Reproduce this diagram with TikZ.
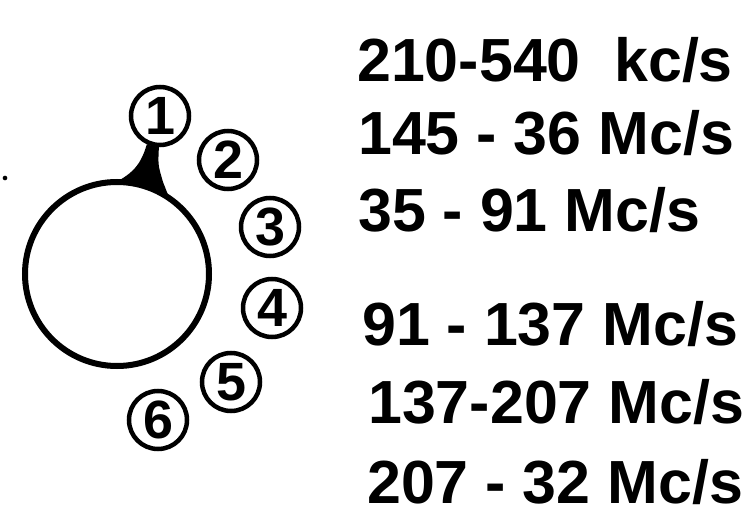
\documentclass[tikz,border=0pt]{standalone}
\usepackage{fontspec}
\setmainfont{Liberation Sans}

\begin{document}
\begin{tikzpicture}[x=0.3mm, y=-0.3mm,
  dial/.style={draw, circle, line width=1.8mm, minimum size=55.2mm, inner sep=0pt, fill=white},
  band/.style={draw, circle, line width=1.35mm, minimum size=17.4mm, inner sep=0pt, font=\fontsize{46pt}{46pt}\selectfont\bfseries},
  freqlabel/.style={anchor=base west, inner sep=0pt, font=\fontsize{52pt}{60pt}\selectfont\bfseries}
]
  \useasboundingbox (0,0) rectangle (751,527);

  \node[band] (b1) at (160,116) {1};
  \node[band] (b2) at (228,160) {2};
  \node[band] (b3) at (270,227) {3};
  \node[band] (b4) at (272,308) {4};
  \node[band] (b5) at (231,382) {5};
  \node[band] (b6) at (158,420) {6};

  \fill (b1.-115) .. controls (140,168) and (130,176) .. (104,188) -- (117,230) -- (172,205) -- (163,182) .. controls (158,165) .. (b1.-92) -- cycle;
  \node[dial] (dial) at (117,274) {};

  \fill (5,178) circle[radius=0.7mm];

  \node[freqlabel] (r1) at (357,82)  {210-540\hspace{0.55em}kc/s};
  \node[freqlabel] (r2) at (358,155) {145 - 36 Mc/s};
  \node[freqlabel] (r3) at (358,232) {35 - 91 Mc/s};
  \node[freqlabel] (r4) at (362,345) {91 - 137 Mc/s};
  \node[freqlabel] (r5) at (368,423) {137-207 Mc/s};
  \node[freqlabel] (r6) at (367,503) {207 - 32 Mc/s};
\end{tikzpicture}
\end{document}
